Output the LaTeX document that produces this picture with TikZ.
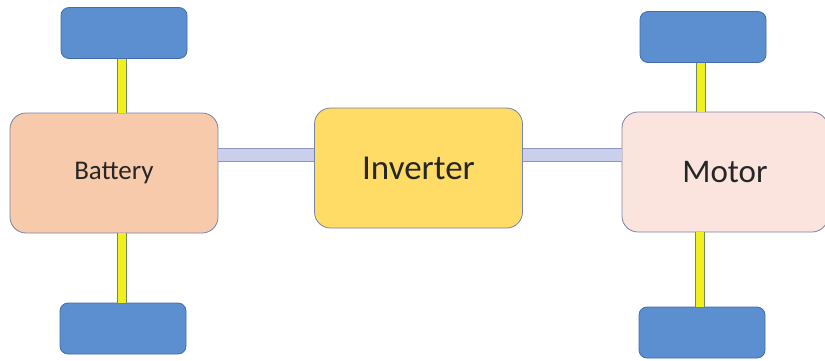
\documentclass[tikz,border=0pt]{standalone}
\usepackage{fontspec}
\setmainfont{Carlito}
\definecolor{wheelblue}{RGB}{91,143,207}
\definecolor{wheeledge}{RGB}{68,108,168}
\definecolor{batfill}{RGB}{248,202,172}
\definecolor{invfill}{RGB}{255,220,102}
\definecolor{motfill}{RGB}{252,228,222}
\definecolor{boxedge}{RGB}{120,132,165}
\definecolor{linkfill}{RGB}{202,207,236}
\definecolor{linkedge}{RGB}{140,150,192}
\definecolor{axlefill}{RGB}{240,240,30}
\definecolor{axleedge}{RGB}{110,140,95}
\tikzset{
  wheel/.style={draw=wheeledge, fill=wheelblue, line width=.8pt, rounded corners=8pt,
    minimum width=126pt, minimum height=51pt},
  unit/.style={draw=boxedge, line width=.8pt, rounded corners=16pt,
    minimum width=208pt, minimum height=120pt, text=black!85},
  axle/.style={draw=axleedge, line width=.8pt, double=axlefill, double distance=8.5pt},
  link/.style={draw=linkedge, line width=.8pt, double=linkfill, double distance=12.5pt}
}
\begin{document}
\begin{tikzpicture}[x=1pt, y=-1pt]
\useasboundingbox[fill=white] (0,0) rectangle (825,360);
% main units
\node[unit, fill=batfill, font=\fontsize{27}{30}\selectfont] (bat) at (114,173) {Battery};
\node[unit, fill=invfill, font=\fontsize{35}{38}\selectfont] (inv) at (418.5,168) {Inverter};
\node[unit, fill=motfill, font=\fontsize{33}{37}\selectfont, minimum width=206pt] (mot) at (725,172) {Motor};
% wheels
\node[wheel] (wtl) at (124,33) {};
\node[wheel] (wbl) at (123,328.5) {};
\node[wheel] (wtr) at (703,37) {};
\node[wheel] (wbr) at (702,332.5) {};
% axles
\draw[axle] ([xshift=-2pt]wtl.south) -- ([xshift=-2pt]wtl.south |- bat.north);
\draw[axle] ([xshift=-1pt]wbl.north) -- ([xshift=-1pt]wbl.north |- bat.south);
\draw[axle] ([xshift=-2pt]wtr.south) -- ([xshift=-2pt]wtr.south |- mot.north);
\draw[axle] ([xshift=-2pt]wbr.north) -- ([xshift=-2pt]wbr.north |- mot.south);
% links
\draw[link] ([yshift=18pt]bat.east) -- ([yshift=18pt]bat.east -| inv.west);
\draw[link] ([yshift=17pt]mot.west) -- ([yshift=17pt]mot.west -| inv.east);
\end{tikzpicture}
\end{document}
